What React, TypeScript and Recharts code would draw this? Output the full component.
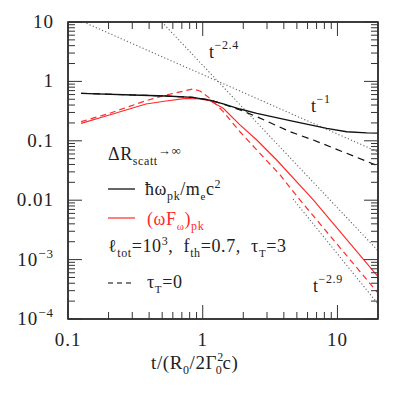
import React from "react";
import { Line, LineChart, ReferenceLine, XAxis, YAxis } from "recharts";

// time in units of R0/2Γ0²c
const blackSolidT = [0.125, 0.302, 0.534, 0.843, 1.13, 1.42, 1.89, 2.52, 4.45, 8.33, 11.7, 16.5, 20];
const blackSolidV = [0.631, 0.59, 0.568, 0.54, 0.486, 0.417, 0.343, 0.29, 0.218, 0.162, 0.142, 0.136, 0.135];

const blackDashT = [0.125, 0.302, 0.534, 0.843, 1.13, 1.42, 1.89, 2.52, 4.45, 6.62, 11.7, 20];
const blackDashV = [0.631, 0.59, 0.568, 0.54, 0.486, 0.415, 0.33, 0.255, 0.142, 0.103, 0.0616, 0.0377];

const redSolidT = [0.125, 0.203, 0.379, 0.534, 0.752, 0.944, 1.13, 1.42, 1.89, 2.52, 3.54, 6.62, 20];
const redSolidV = [0.197, 0.272, 0.417, 0.468, 0.519, 0.506, 0.473, 0.352, 0.185, 0.103, 0.0475, 0.0101, 5.15e-4];

const redDashT = [0.125, 0.203, 0.379, 0.534, 0.843, 0.955, 1.13, 1.42, 1.89, 2.52, 3.75, 5.27, 20];
const redDashV = [0.21, 0.29, 0.473, 0.59, 0.745, 0.69, 0.519, 0.309, 0.142, 0.07, 0.0266, 0.0101, 2.74e-4];

// reference power laws (end points only)
const tm1T = [0.13, 20];
const tm1V = [10, 0.065];
const tm24T = [0.497, 20];
const tm24V = [10, 1.41e-3];
const tm29T = [4.68, 20];
const tm29V = [0.0105, 1.79e-4];

const xDomain = [0.1, 20];
const yDomain = [1e-4, 10];
const xMajor = [0.1, 1, 10];
const xMajorLabels = ["0.1", "1", "10"];
const yMajor = [1e-4, 1e-3, 0.01, 0.1, 1, 10];
const yMajorLabels = [["10", "−4"], ["10", "−3"], ["0.01", ""], ["0.1", ""], ["1", ""], ["10", ""]];

const xTicks: number[] = [];
[0.1, 1].forEach((d) => [1, 2, 3, 4, 5, 6, 7, 8, 9].forEach((m) => xTicks.push(+(d * m).toPrecision(3))));
xTicks.push(10);
const yTicks: number[] = [];
[1e-4, 1e-3, 0.01, 0.1, 1].forEach((d) => [1, 2, 3, 4, 5, 6, 7, 8, 9].forEach((m) => yTicks.push(+(d * m).toPrecision(3))));
yTicks.push(10);

const zip = (t: number[], v: number[]) => t.map((x, i) => ({ x, y: v[i] }));

const W = 399;
const H = 399;
const PL = 68;
const PR = 378;
const PT = 22;
const PB = 319;
const AX = "#333";
const TXT = "#222";
const RED = "#ff2a2a";

const majorIdx = (arr: number[], v: number) => arr.findIndex((a) => Math.abs(a - v) / a < 1e-6);

const TickLabel = ({ x, y, parts, anchor }: any) => (
  <text x={x} y={y} textAnchor={anchor} fontSize={19} letterSpacing={1} fill={TXT}>
    {parts[0]}
    {parts[1] && (
      <tspan dy={-8} fontSize={13}>
        {parts[1]}
      </tspan>
    )}
  </text>
);

// inward ticks on both sides of the box
const LeftTick = (props: any) => {
  const { y, payload } = props;
  const i = majorIdx(yMajor, payload.value);
  const len = i >= 0 ? 14 : 7;
  return (
    <g>
      <line x1={PL} x2={PL + len} y1={y} y2={y} stroke={AX} strokeWidth={1} />
      <line x1={PR - len} x2={PR} y1={y} y2={y} stroke={AX} strokeWidth={1} />
      {i >= 0 && <TickLabel x={54} y={y + 6} parts={yMajorLabels[i]} anchor="end" />}
    </g>
  );
};

const BottomTick = (props: any) => {
  const { x, payload } = props;
  const i = majorIdx(xMajor, payload.value);
  const len = i >= 0 ? 14 : 7;
  return (
    <g>
      <line x1={x} x2={x} y1={PB} y2={PB - len} stroke={AX} strokeWidth={1} />
      <line x1={x} x2={x} y1={PT} y2={PT + len} stroke={AX} strokeWidth={1} />
      {i >= 0 && <TickLabel x={x} y={346} parts={[xMajorLabels[i]]} anchor="middle" />}
    </g>
  );
};

const Annotations = () => (
  <svg width={W} height={H} style={{ position: "absolute", left: 0, top: 0, pointerEvents: "none" }}>
    <rect x={PL} y={PT} width={PR - PL} height={PB - PT} fill="none" stroke={AX} strokeWidth={1.6} />
    <g fontSize={18} letterSpacing={0.6} fill={TXT}>
      {/* power law labels */}
      <text x={209} y={58}>
        t<tspan dy={-9} fontSize={12}>−2.4</tspan>
      </text>
      <text x={311} y={112}>
        t<tspan dy={-9} fontSize={12}>−1</tspan>
      </text>
      <text x={313} y={292}>
        t<tspan dy={-9} fontSize={12}>−2.9</tspan>
      </text>

      {/* legend block */}
      <text x={108} y={160}>
        ΔR<tspan dy={5} fontSize={12}>scatt</tspan>
        <tspan dy={-10} fontSize={13}>→∞</tspan>
      </text>
      <line x1={108} x2={135} y1={189} y2={189} stroke="#000" strokeWidth={1.2} />
      <text x={145} y={195}>
        ħω<tspan dy={5} fontSize={12}>pk</tspan>
        <tspan dy={-5}>/m</tspan>
        <tspan dy={5} fontSize={11}>e</tspan>
        <tspan dy={-5}>c</tspan>
        <tspan dy={-7} fontSize={12}>2</tspan>
      </text>
      <line x1={108} x2={135} y1={218} y2={218} stroke={RED} strokeWidth={1.2} />
      <text x={147} y={225} fill={RED}>
        (ωF<tspan dy={5} fontSize={11}>ω</tspan>
        <tspan dy={-5}>)</tspan>
        <tspan dy={5} fontSize={12}>pk</tspan>
      </text>
      <text x={108} y={252}>
        ℓ<tspan dy={5} fontSize={12}>tot</tspan>
        <tspan dy={-5}>=10</tspan>
        <tspan dy={-7} fontSize={12}>3</tspan>
        <tspan dy={7}>,{"\u00a0\u00a0"}f</tspan>
        <tspan dy={5} fontSize={12}>th</tspan>
        <tspan dy={-5}>=0.7,{"\u00a0\u00a0"}τ</tspan>
        <tspan dy={5} fontSize={11}>T</tspan>
        <tspan dy={-5}>=3</tspan>
      </text>
      <line x1={108} x2={133} y1={283} y2={283} stroke="#000" strokeWidth={1.2} strokeDasharray="5 4" />
      <text x={147} y={288}>
        τ<tspan dy={5} fontSize={11}>T</tspan>
        <tspan dy={-5}>=0</tspan>
      </text>

      {/* x title */}
      <text x={151} y={369} fontSize={19}>
        t/(R<tspan dy={5} fontSize={12}>0</tspan>
        <tspan dy={-5}>/2Γ</tspan>
        <tspan dy={-8} fontSize={12}>2</tspan>
        <tspan dx={-8} dy={13} fontSize={12}>0</tspan>
        <tspan dy={-5}>c)</tspan>
      </text>
    </g>
  </svg>
);

const App = () => (
  <div style={{ position: "absolute", left: 0, top: 0, width: W, height: H, background: "#fff" }}>
    <LineChart width={W} height={H} margin={{ top: PT, right: W - PR, left: 0, bottom: 0 }}>
      <XAxis
        dataKey="x"
        type="number"
        scale="log"
        domain={xDomain}
        allowDataOverflow
        ticks={xTicks}
        interval={0}
        height={H - PB}
        tickLine={false}
        tick={<BottomTick />}
        axisLine={{ stroke: AX, strokeWidth: 1.5 }}
      />
      <YAxis
        type="number"
        scale="log"
        domain={yDomain}
        allowDataOverflow
        ticks={yTicks}
        interval={0}
        width={PL}
        tickLine={false}
        tick={<LeftTick />}
        axisLine={{ stroke: AX, strokeWidth: 1.5 }}
      />
      <ReferenceLine x={20} stroke={AX} strokeWidth={1.5} ifOverflow="visible" />
      <ReferenceLine y={10} stroke={AX} strokeWidth={1.5} ifOverflow="visible" />
      <Line data={zip(tm1T, tm1V)} dataKey="y" stroke="#666" strokeWidth={1.1} strokeDasharray="1.2 2.2" dot={false} isAnimationActive={false} />
      <Line data={zip(tm24T, tm24V)} dataKey="y" stroke="#666" strokeWidth={1.1} strokeDasharray="1.2 2.2" dot={false} isAnimationActive={false} />
      <Line data={zip(tm29T, tm29V)} dataKey="y" stroke="#666" strokeWidth={1.1} strokeDasharray="1.2 2.2" dot={false} isAnimationActive={false} />
      <Line data={zip(redDashT, redDashV)} dataKey="y" stroke={RED} strokeWidth={1.2} strokeDasharray="6 4" dot={false} isAnimationActive={false} />
      <Line data={zip(redSolidT, redSolidV)} dataKey="y" stroke={RED} strokeWidth={1.2} dot={false} isAnimationActive={false} />
      <Line data={zip(blackDashT, blackDashV)} dataKey="y" stroke="#111" strokeWidth={1.2} strokeDasharray="7 5" dot={false} isAnimationActive={false} />
      <Line data={zip(blackSolidT, blackSolidV)} dataKey="y" stroke="#111" strokeWidth={1.3} dot={false} isAnimationActive={false} />
    </LineChart>
    <Annotations />
  </div>
);

export default App;
